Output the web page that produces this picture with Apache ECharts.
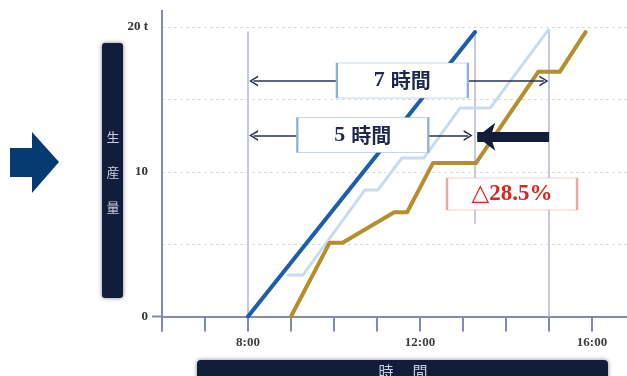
<!DOCTYPE html>
<html>
<head>
<meta charset="utf-8">
<script src="https://cdn.jsdelivr.net/npm/echarts@6/dist/echarts.min.js"></script>
<style>
  html, body { margin: 0; padding: 0; background: #ffffff; }
  #chart { width: 627px; height: 376px; }
</style>
</head>
<body>
<div id="chart"></div>
<script>
// Hours on the x axis, tonnes on the y axis
const xLabelHours = [8, 12, 16];
const yLabelText = { 0: '0', 10: '10', 20: '20 t' };

// Improved line: straight ramp from 8:00
const targetLine = [[8.0, 0], [13.28, 19.65]];
// Previous plan (light line)
const planLine = [
  [8.93, 2.87], [9.28, 2.87], [10.72, 8.74], [11.02, 8.74], [11.58, 10.95],
  [12.09, 10.95], [12.93, 14.4], [13.63, 14.4], [14.98, 19.79]
];
// Actual output (gold line)
const actualLine = [
  [9.0, 0], [9.9, 5.1], [10.2, 5.1], [11.4, 7.2], [11.7, 7.2],
  [12.3, 10.6], [13.3, 10.6], [14.75, 16.9], [15.25, 16.9], [15.85, 19.65]
];

// Guide lines: [hour, from, to]
const guideLines = [[8, 0, 19.7], [13.28, 6.4, 19.7], [15, 0, 19.85]];
// Duration arrows: [fromHour, toHour, level]
const spanArrows = [[8.13, 14.88, 16.27], [8.13, 13.12, 12.5]];
const spanLabels = ['7', '5'];
// Box centres: [hour, level]
const spanBoxes = [[11.59, 16.3], [10.67, 12.54]];
const reductionBox = [14.14, 8.46];
const reductionText = '△28.5%';
// Thick arrow: [fromHour, toHour, level]
const shiftArrow = [15.0, 13.33, 12.42];

const SERIF = '"Liberation Serif", "DejaVu Serif", serif';
const JP = '"Noto Sans CJK JP", sans-serif';
const AXIS = '#8289b6';
const NAVY = '#111d3b';

const chart = echarts.init(document.getElementById('chart'), null, { renderer: 'canvas' });

const chevron = 'path://M0,12 L6,0 L12,12 L10,12 L6,3.5 L2,12 Z';

const baseOption = {
  animation: false,
  backgroundColor: '#ffffff',
  grid: {
    left: 162, top: 27, width: 473, height: 289.5,
    containLabel: false, outerBoundsMode: 'none'
  },
  xAxis: {
    type: 'value', min: 6, max: 17, interval: 1,
    axisLine: { show: true, lineStyle: { color: AXIS, width: 2 } },
    axisTick: { show: true, length: 15, lineStyle: { color: AXIS, width: 2 } },
    axisLabel: {
      margin: 20, color: '#3d3d3d', fontFamily: SERIF, fontWeight: 'bold', fontSize: 13,
      formatter: v => (xLabelHours.includes(v) ? v + ':00' : '')
    },
    splitLine: { show: false }
  },
  yAxis: {
    type: 'value', min: 0, max: 20, interval: 5,
    axisLine: { show: false },
    axisTick: { show: false },
    axisLabel: {
      margin: 14, color: '#333333', fontFamily: SERIF, fontWeight: 'bold', fontSize: 13,
      formatter: v => yLabelText[v] || ''
    },
    splitLine: { show: true, lineStyle: { color: '#d6d9e8', width: 1, type: [3, 3] } }
  },
  series: [
    {
      name: 'guides', type: 'line', data: [], silent: true,
      markLine: {
        z: 1, silent: true, symbol: ['none', 'none'], label: { show: false },
        lineStyle: { color: '#b3b9d6', width: 1.5, type: 'solid' },
        data: guideLines.map(g => [{ coord: [g[0], g[1]] }, { coord: [g[0], g[2]] }])
      }
    },
    {
      name: 'plan', type: 'line', data: planLine, symbol: 'none', z: 2,
      lineStyle: { color: '#c7dcef', width: 3, cap: 'round', join: 'round' }
    },
    {
      name: 'target', type: 'line', data: targetLine, symbol: 'none', z: 3,
      lineStyle: { color: '#1c5ea8', width: 4, cap: 'round', join: 'round' }
    },
    {
      name: 'actual', type: 'line', data: actualLine, symbol: 'none', z: 3,
      lineStyle: { color: '#b48f2c', width: 4, cap: 'round', join: 'round' }
    },
    {
      name: 'notes', type: 'line', data: [], silent: true,
      markLine: {
        z: 4, silent: true, label: { show: false },
        symbol: [chevron, chevron], symbolSize: [11, 9],
        lineStyle: { color: '#27314f', width: 1.5, type: 'solid' },
        data: spanArrows.map(a => [{ coord: [a[0], a[2]] }, { coord: [a[1], a[2]] }])
      },
      markPoint: {
        z: 6, silent: true,
        data: [
          ...spanBoxes.map((b, i) => ({
            coord: b, symbol: 'rect', symbolSize: [131, 35],
            itemStyle: { color: '#ffffff', borderColor: '#8cb2d8', borderWidth: 1.2 },
            label: {
              show: true, position: 'inside',
              formatter: '{n|' + spanLabels[i] + '}{k|時間}',
              rich: {
                n: { fontFamily: SERIF, fontWeight: 'bold', fontSize: 22, color: '#1d2a4d', padding: [0, 6, 0, 0] },
                k: { fontFamily: JP, fontWeight: 'bold', fontSize: 20, color: '#1d2a4d' }
              }
            }
          })),
          {
            coord: reductionBox, symbol: 'rect', symbolSize: [130, 32],
            itemStyle: { color: '#ffffff', borderColor: '#f0a59c', borderWidth: 1.2 },
            label: {
              show: true, position: 'inside', formatter: reductionText,
              color: '#d8281d', fontFamily: SERIF, fontWeight: 'bold', fontSize: 23
            }
          }
        ]
      }
    },
    {
      name: 'shift', type: 'line', data: [], silent: true,
      markLine: {
        z: 7, silent: true, label: { show: false },
        symbol: ['none', 'arrow'], symbolSize: [21, 18],
        lineStyle: { color: NAVY, width: 10, type: 'solid', cap: 'butt' },
        data: [[{ coord: [shiftArrow[0], shiftArrow[2]] }, { coord: [shiftArrow[1], shiftArrow[2]] }]]
      }
    }
  ]
};

chart.setOption(baseOption);

// Axis frame: y axis runs above and below the plot, x axis runs a little to the left
const origin = chart.convertToPixel({ gridIndex: 0 }, [6, 0]);

const decor = [
  {
    type: 'polygon', z: 10,
    shape: { points: [[10, 148], [32, 148], [32, 132], [59, 162], [32, 193], [32, 177], [10, 177]] },
    style: { fill: '#053b71' }
  },
  {
    type: 'rect', z: 10,
    shape: { x: 102, y: 43, width: 21, height: 255, r: 3 },
    style: { fill: NAVY, shadowBlur: 4, shadowColor: 'rgba(17,29,59,0.55)' }
  },
  {
    type: 'text', z: 11, x: 113, y: 172,
    style: {
      text: '生\n産\n量', fill: '#c9cfe0', font: '13px ' + JP,
      align: 'center', verticalAlign: 'middle', lineHeight: 35
    }
  },
  {
    type: 'rect', z: 10,
    shape: { x: 197, y: 360, width: 411, height: 22, r: 4 },
    style: { fill: NAVY, shadowBlur: 4, shadowColor: 'rgba(17,29,59,0.55)' }
  },
  {
    type: 'text', z: 11, x: 386, y: 371,
    style: { text: '時', fill: '#c9cfe0', font: '15px ' + JP, align: 'center', verticalAlign: 'middle' }
  },
  {
    type: 'text', z: 11, x: 420, y: 371,
    style: { text: '間', fill: '#c9cfe0', font: '15px ' + JP, align: 'center', verticalAlign: 'middle' }
  },
  {
    type: 'line', z: 9,
    shape: { x1: origin[0], y1: 10, x2: origin[0], y2: origin[1] + 15 },
    style: { stroke: AXIS, lineWidth: 2 }
  },
  {
    type: 'line', z: 9,
    shape: { x1: origin[0] - 10, y1: origin[1], x2: origin[0], y2: origin[1] },
    style: { stroke: AXIS, lineWidth: 2 }
  }
];

chart.setOption({ graphic: decor });
</script>
</body>
</html>
